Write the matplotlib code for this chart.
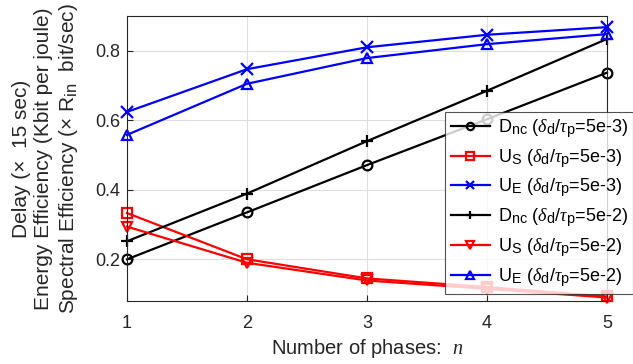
import matplotlib
matplotlib.use("Agg")
import matplotlib.pyplot as plt
import matplotlib._mathtext as _mt

_mt.SHRINK_FACTOR = 0.8

plt.rcParams['font.family'] = ['Liberation Sans', 'DejaVu Sans']
plt.rcParams['mathtext.fontset'] = 'custom'
plt.rcParams['mathtext.rm'] = 'Liberation Sans'
plt.rcParams['mathtext.it'] = 'Liberation Serif:italic'
plt.rcParams['mathtext.sf'] = 'Liberation Sans'

n = [1, 2, 3, 4, 5]
dnc_5e3 = [0.200, 0.335, 0.471, 0.603, 0.737]
us_5e3 = [0.333, 0.200, 0.145, 0.120, 0.093]
ue_5e3 = [0.624, 0.747, 0.810, 0.846, 0.868]
dnc_5e2 = [0.252, 0.389, 0.540, 0.685, 0.834]
us_5e2 = [0.294, 0.190, 0.139, 0.115, 0.090]
ue_5e2 = [0.558, 0.705, 0.779, 0.819, 0.848]

labels = [
    r'D$_{\rm nc}$ ($\delta_{\rm d}$/$\tau_{\rm p}$=5e-3)',
    r'U$_{\rm S}$ ($\delta_{\rm d}$/$\tau_{\rm p}$=5e-3)',
    r'U$_{\rm E}$ ($\delta_{\rm d}$/$\tau_{\rm p}$=5e-3)',
    r'D$_{\rm nc}$ ($\delta_{\rm d}$/$\tau_{\rm p}$=5e-2)',
    r'U$_{\rm S}$ ($\delta_{\rm d}$/$\tau_{\rm p}$=5e-2)',
    r'U$_{\rm E}$ ($\delta_{\rm d}$/$\tau_{\rm p}$=5e-2)',
]

fig = plt.figure(figsize=(6.33, 3.64), dpi=100)
ax = fig.add_axes([127/633, 1-301/364, (607-127)/633, (301-16)/364])

lw = 1.6
series = [
    (dnc_5e3, 'k', 'o', labels[0]),
    (us_5e3, 'r', 's', labels[1]),
    (ue_5e3, 'b', 'x', labels[2]),
    (dnc_5e2, 'k', '+', labels[3]),
    (us_5e2, 'r', 'v', labels[4]),
    (ue_5e2, 'b', '^', labels[5]),
]
handles = []
for ys, c, m, lab in series:
    h, = ax.plot(n, ys, color=c, marker=m, lw=lw, ms=7 if m not in ('x', '+') else 8,
                 mfc='none', mec=c, mew=1.6, label=lab, clip_on=False)
    handles.append(h)

ax.set_xlim(1, 5)
ax.set_ylim(0.08, 0.9)
ax.set_xticks([1, 2, 3, 4, 5])
ax.set_yticks([0.2, 0.4, 0.6, 0.8])
ax.set_yticklabels(['0.2', '0.4', '0.6', '0.8'])
ax.grid(True, color='#dedede', lw=0.8)
ax.set_axisbelow(True)
ax.tick_params(direction='in', labelsize=13, colors='#262626', length=4)
ax.tick_params(axis='x', pad=10)
ax.tick_params(axis='y', pad=5)
for s in ax.spines.values():
    s.set_color('#262626')
    s.set_linewidth(0.8)

ax.set_xlabel(r'Number of phases:  $\mathit{n}$', fontsize=14.5, color='#262626', labelpad=4)
ax.set_ylabel('Delay (\u00d7  15 sec)\nEnergy Efficiency (Kbit per joule)\n'
              'Spectral Efficiency (\u00d7 R$_{\\rm in}$  bit/sec)',
              fontsize=15, color='#262626', linespacing=1.22)
ax.yaxis.set_label_coords(-0.098, 0.5)

leg = fig.legend(handles=handles, loc='lower right',
                 bbox_to_anchor=(633/633, 1-294/364), fontsize=13,
                 frameon=True, fancybox=False, edgecolor='#262626',
                 handlelength=2.2, labelspacing=0.4, borderpad=0.3,
                 handletextpad=0.4, borderaxespad=0, markerscale=0.75)
leg.get_frame().set_linewidth(0.8)

fig.savefig('out.png', dpi=100)
